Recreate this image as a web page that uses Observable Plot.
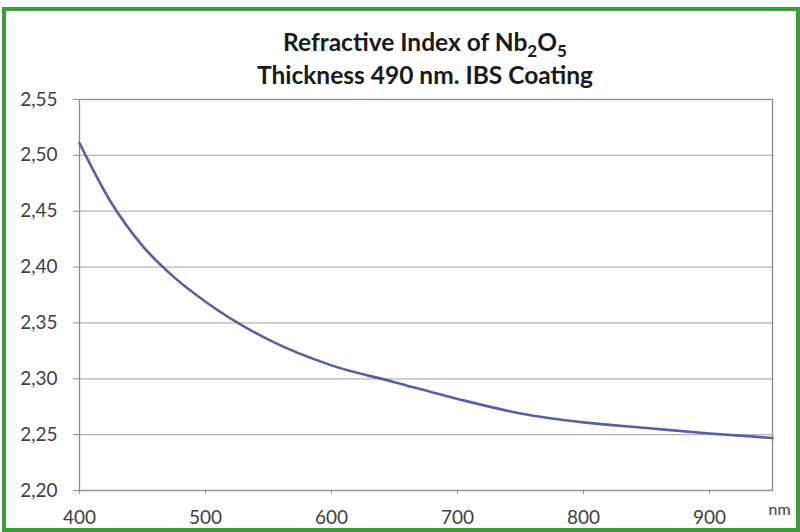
<!DOCTYPE html>
<html>
<head>
<meta charset="utf-8">
<script src="https://cdn.jsdelivr.net/npm/d3@7"></script>
<script src="https://cdn.jsdelivr.net/npm/@observablehq/plot@0.6"></script>
<style>
  html, body { margin: 0; padding: 0; background: #fff; }
  #page { position: relative; width: 800px; height: 532px; overflow: hidden; font-family: Lato, "Open Sans", sans-serif; }
  #border { position: absolute; left: 2px; top: 7px; width: 790px; height: 517px; border: 4px solid #3c9d3c; }
  #title { position: absolute; left: 0; top: 25px; width: 850px; text-align: center; font-weight: bold; font-size: 24.5px; line-height: 33px; color: #1a1a1a; }
  #title sub { font-size: 17px; line-height: 0; }
  #chart { position: absolute; left: 0; top: 85px; }
  #chart svg { overflow: visible; background: transparent; }
</style>
</head>
<body>
<div id="page">
  <div id="border"></div>
  <div id="title">Refractive Index of Nb<sub>2</sub>O<sub>5</sub><br>Thickness 490 nm. IBS Coating</div>
  <div id="chart"></div>
</div>
<script>
const wavelength = [400, 425, 450, 475, 500, 550, 600, 650, 700, 750, 800, 850, 900, 950];
const refractiveIndex = [2.511, 2.458, 2.419, 2.391, 2.369, 2.335, 2.312, 2.297, 2.282, 2.269, 2.261, 2.256, 2.251, 2.247];
const xTicks = [400, 500, 600, 700, 800, 900];
const yTicks = [2.20, 2.25, 2.30, 2.35, 2.40, 2.45, 2.50, 2.55];
const xUnit = "nm";

const data = wavelength.map((w, i) => ({w, n: refractiveIndex[i]}));
const fmt = d => d.toFixed(2).replace(".", ",");

const chart = Plot.plot({
  width: 800,
  height: 447,
  marginLeft: 79,
  marginRight: 28,
  marginTop: 14,
  marginBottom: 42,
  style: {fontFamily: "Lato, 'Open Sans', sans-serif", fontSize: "19px", color: "#404040", background: "transparent", overflow: "visible"},
  x: {domain: [400, 950]},
  y: {domain: [2.20, 2.55]},
  marks: [
    Plot.gridY(yTicks, {stroke: "#b4b4b4", strokeOpacity: 1, strokeWidth: 1.2}),
    Plot.frame({stroke: "#8c8c8c", strokeWidth: 1.3}),
    Plot.axisY(yTicks, {tickFormat: fmt, tickSize: 6, tickPadding: 16, label: null, stroke: "#8c8c8c", fill: "#404040", fontSize: 19}),
    Plot.axisX(xTicks, {tickFormat: d => String(d), tickSize: 4, tickPadding: 16, label: null, stroke: "#8c8c8c", fill: "#404040", fontSize: 19}),
    Plot.line(data, {x: "w", y: "n", stroke: "#5a5ea8", strokeWidth: 2.6, curve: "monotone-x"}),
    Plot.text([xUnit], {frameAnchor: "bottom-right", text: d => d, dx: 7, dy: 24, fontSize: 16, fill: "#404040", textAnchor: "middle"})
  ]
});
document.getElementById("chart").appendChild(chart);
</script>
</body>
</html>
